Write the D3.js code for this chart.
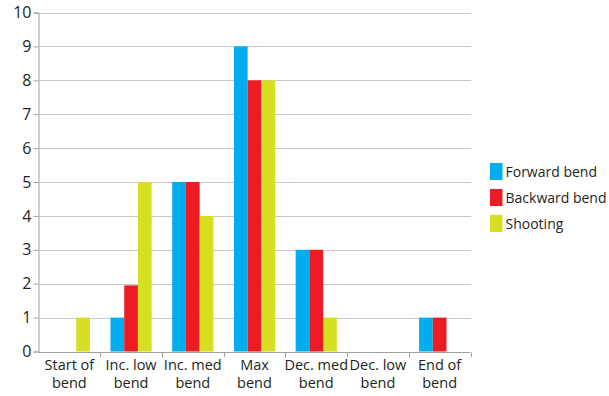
<!DOCTYPE html>
<html>
<head>
<meta charset="utf-8">
<script src="https://cdn.jsdelivr.net/npm/d3@7"></script>
<style>
  html, body { margin: 0; padding: 0; background: #fff; }
  svg { display: block; font-family: "Open Sans", "Noto Sans", sans-serif; }
</style>
</head>
<body>
<svg id="chart" width="609" height="396"></svg>
<script>
// Bend phases along the x axis (each label split over two lines)
const categories = [
  ["Start of", "bend"],
  ["Inc. low", "bend"],
  ["Inc. med", "bend"],
  ["Max", "bend"],
  ["Dec. med", "bend"],
  ["Dec. low", "bend"],
  ["End of", "bend"]
];
const seriesNames = ["Forward bend", "Backward bend", "Shooting"];
const forwardBend  = [0, 1, 5, 9, 3, 0, 1];
const backwardBend = [0, 1.95, 5, 8, 3, 0, 1];
const shooting     = [1, 5, 4, 8, 1, 0, 0];
const yTicks = [0, 1, 2, 3, 4, 5, 6, 7, 8, 9, 10];
const colors = ["#00AEEF", "#ED1C24", "#D7DF23"];

const seriesValues = [forwardBend, backwardBend, shooting];

const svg = d3.select("#chart");
const margin = { left: 38.5, right: 138.5, top: 12.5, bottom: 44.5 };
const W = 609, H = 396;

const x = d3.scaleBand()
  .domain(d3.range(categories.length))
  .range([margin.left, W - margin.right])
  .paddingInner(0).paddingOuter(0);

const inner = d3.scaleBand()
  .domain(d3.range(seriesNames.length))
  .range([0, x.bandwidth()])
  .paddingOuter(0.75).paddingInner(0);

const y = d3.scaleLinear().domain([0, 10]).range([H - margin.bottom, margin.top]);

// Horizontal gridlines
svg.append("g")
  .selectAll("line")
  .data(yTicks.filter(d => d > 0))
  .join("line")
  .attr("x1", margin.left).attr("x2", W - margin.right + 0.5)
  .attr("y1", d => Math.round(y(d)) + 0.5).attr("y2", d => Math.round(y(d)) + 0.5)
  .attr("stroke", "#c8c8c8").attr("stroke-width", 1);

// Bars
const groups = svg.append("g")
  .selectAll("g")
  .data(categories.map((c, i) => i))
  .join("g")
  .attr("transform", i => `translate(${x(i)},0)`);

groups.selectAll("rect")
  .data(i => seriesValues.map((vals, s) => ({ s, v: vals[i] })))
  .join("rect")
  .attr("x", d => inner(d.s))
  .attr("width", inner.bandwidth())
  .attr("y", d => y(d.v))
  .attr("height", d => y(0) - y(d.v))
  .attr("fill", d => colors[d.s]);

// Y axis
const yAxis = svg.append("g")
  .attr("transform", `translate(${margin.left},0)`)
  .call(d3.axisLeft(y).tickValues(yTicks).tickSize(5).tickPadding(2).tickFormat(d3.format("d")));
yAxis.select(".domain").attr("stroke", "#a0a0a0");
yAxis.selectAll(".tick line").attr("stroke", "#a0a0a0");
yAxis.selectAll("text").attr("font-size", 16).attr("fill", "#231f20")
  .attr("font-family", "'Open Sans', sans-serif");

// X axis baseline and category boundary ticks
const xAxisG = svg.append("g");
xAxisG.append("line")
  .attr("x1", margin.left).attr("x2", W - margin.right)
  .attr("y1", Math.round(y(0)) + 0.5).attr("y2", Math.round(y(0)) + 0.5)
  .attr("stroke", "#a0a0a0");
const bounds = d3.range(categories.length + 1).map(i =>
  i < categories.length ? x(i) : x(categories.length - 1) + x.bandwidth());
xAxisG.selectAll(".bt")
  .data(bounds.slice(1))
  .join("line")
  .attr("x1", d => Math.round(d) + 0.5).attr("x2", d => Math.round(d) + 0.5)
  .attr("y1", Math.round(y(0)) + 0.5).attr("y2", Math.round(y(0)) + 5)
  .attr("stroke", "#a0a0a0");

// Category labels
const labels = xAxisG.selectAll(".cl")
  .data(categories)
  .join("text")
  .attr("x", (d, i) => x(i) + x.bandwidth() / 2)
  .attr("text-anchor", "middle")
  .attr("font-size", 14.5)
  .attr("fill", "#231f20");
labels.append("tspan").attr("x", (d, i) => x(i) + x.bandwidth() / 2).attr("y", 370).text(d => d[0]);
labels.append("tspan").attr("x", (d, i) => x(i) + x.bandwidth() / 2).attr("y", 388).text(d => d[1]);

// Legend
const legend = svg.append("g").attr("transform", "translate(490,163)");
const items = legend.selectAll("g")
  .data(seriesNames)
  .join("g")
  .attr("transform", (d, i) => `translate(0,${i * 26})`);
items.append("rect").attr("width", 12.5).attr("height", 17).attr("fill", (d, i) => colors[i]);
items.append("text").attr("x", 15.5).attr("y", 14).attr("font-size", 14)
  .attr("fill", "#231f20").text(d => d);
</script>
</body>
</html>
